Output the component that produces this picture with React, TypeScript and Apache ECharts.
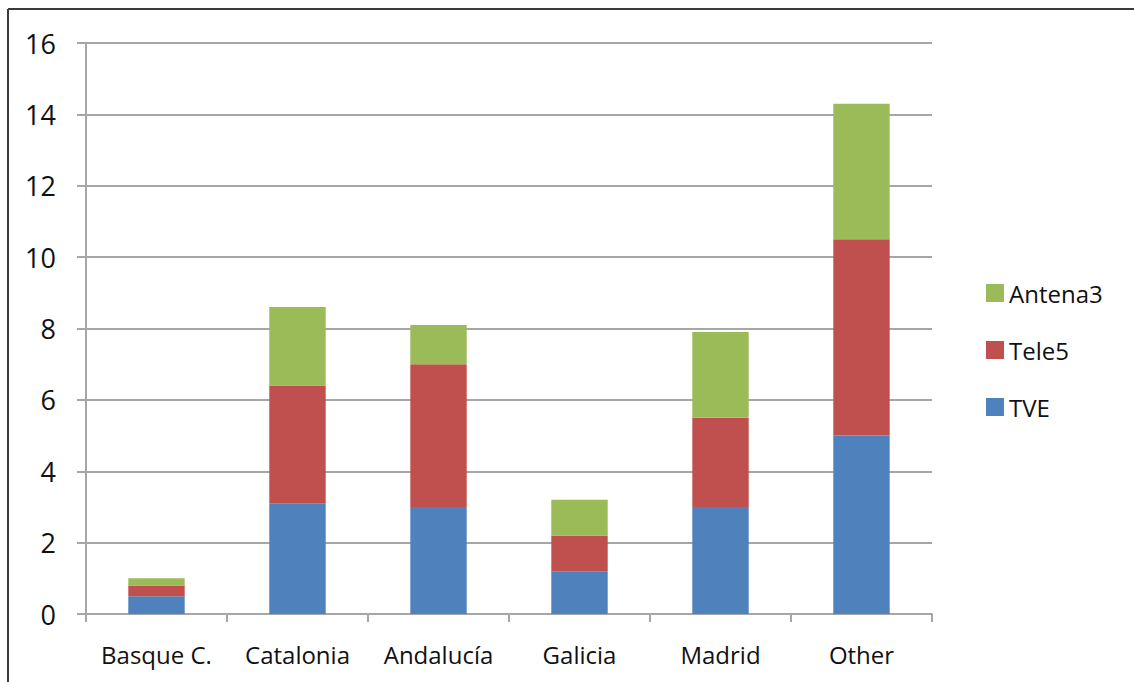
import React, { useEffect, useRef } from "react";
import * as echarts from "echarts";

const categories = ["Basque C.", "Catalonia", "Andalucía", "Galicia", "Madrid", "Other"];
const tveValues = [0.5, 3.1, 3.0, 1.2, 3.0, 5.0];
const tele5Values = [0.3, 3.3, 4.0, 1.0, 2.5, 5.5];
const antena3Values = [0.2, 2.2, 1.1, 1.0, 2.4, 3.8];
const yTicks = { min: 0, max: 16, interval: 2 };

const FONT = "'Open Sans', 'Noto Sans', sans-serif";

export default function App() {
  const ref = useRef<HTMLDivElement>(null);
  useEffect(() => {
    document.body.style.margin = "0";
    if (!ref.current) return;
    const chart = echarts.init(ref.current, null, { renderer: "svg" });
    const gridColor = "#A6A6A6";
    const barW = "40%";
    chart.setOption({
      animation: false,
      backgroundColor: "#ffffff",
      textStyle: { fontFamily: FONT },
      grid: { left: 86, right: 202, top: 43, bottom: 68, containLabel: false },
      legend: {
        orient: "vertical",
        left: 981,
        top: 276,
        itemWidth: 18,
        itemHeight: 18,
        itemGap: 33,
        itemTextGap: 7,
        icon: "rect",
        data: ["Antena3", "Tele5", "TVE"],
        textStyle: { fontFamily: FONT, fontSize: 24, color: "#111111", padding: [0, 0, 0, 0] },
      },
      xAxis: {
        type: "category",
        data: categories,
        boundaryGap: true,
        axisLine: { show: true, lineStyle: { color: gridColor, width: 2 } },
        axisTick: { show: true, length: 8, alignWithLabel: false, lineStyle: { color: gridColor, width: 2 } },
        axisLabel: { fontFamily: FONT, fontSize: 24, color: "#111111", margin: 28, interval: 0 },
        splitLine: { show: false },
      },
      yAxis: {
        type: "value",
        min: yTicks.min,
        max: yTicks.max,
        interval: yTicks.interval,
        axisLine: { show: true, lineStyle: { color: gridColor, width: 2 } },
        axisTick: { show: true, length: 9, lineStyle: { color: gridColor, width: 2 } },
        axisLabel: { fontFamily: FONT, fontSize: 27, color: "#111111", margin: 30 },
        splitLine: { show: true, lineStyle: { color: gridColor, width: 2 } },
      },
      series: [
        { name: "TVE", type: "bar", stack: "a", barWidth: barW, data: tveValues, itemStyle: { color: "#4F81BD" } },
        { name: "Tele5", type: "bar", stack: "a", barWidth: barW, data: tele5Values, itemStyle: { color: "#C0504D" } },
        { name: "Antena3", type: "bar", stack: "a", barWidth: barW, data: antena3Values, itemStyle: { color: "#9BBB59" } },
      ],
      graphic: [
        { type: "line", shape: { x1: 8, y1: 9, x2: 1134, y2: 9 }, style: { stroke: "#3a3a3a", lineWidth: 2 }, z: 100 },
        { type: "line", shape: { x1: 8, y1: 9, x2: 8, y2: 682 }, style: { stroke: "#3a3a3a", lineWidth: 2 }, z: 100 },
      ],
    });
    return () => chart.dispose();
  }, []);
  return <div ref={ref} style={{ width: 1134, height: 682 }} />;
}
